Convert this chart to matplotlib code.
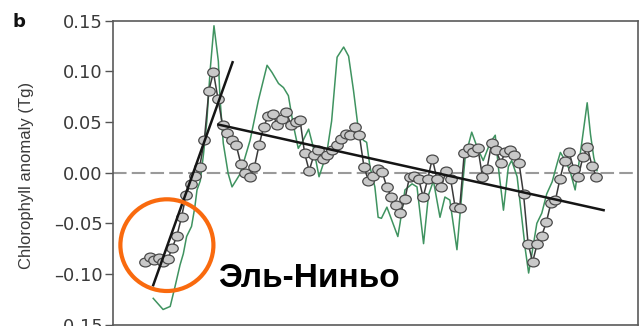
import numpy as np
import matplotlib
matplotlib.use("Agg")
import matplotlib.pyplot as plt
from matplotlib.path import Path
from matplotlib.transforms import Affine2D
from matplotlib.patches import Ellipse

# Monthly chlorophyll anomaly (Tg), starting September 1997
start_year = 1997.67
chl_anomaly = [
    -0.088, -0.083, -0.086, -0.084, -0.088, -0.085, -0.074, -0.062, -0.044, -0.022,
    -0.011, -0.003, 0.006, 0.032, 0.081, 0.099, 0.073, 0.047, 0.039, 0.032,
    0.027, 0.009, 0.000, -0.004, 0.006, 0.027, 0.045, 0.056, 0.058, 0.047,
    0.053, 0.060, 0.047, 0.050, 0.052, 0.019, 0.002, 0.017, 0.022, 0.014,
    0.017, 0.022, 0.027, 0.033, 0.038, 0.037, 0.045, 0.037, 0.006, -0.008,
    -0.003, 0.004, 0.001, -0.014, -0.024, -0.032, -0.040, -0.026, -0.004, -0.003,
    -0.006, -0.024, -0.006, 0.014, -0.006, -0.014, 0.002, -0.006, -0.034, -0.035,
    0.019, 0.024, 0.020, 0.024, -0.004, 0.004, 0.029, 0.022, 0.010, 0.020,
    0.022, 0.017, 0.010, -0.021, -0.070, -0.088, -0.070, -0.062, -0.049, -0.030,
    -0.027, -0.006, 0.012, 0.020, 0.004, -0.004, 0.015, 0.025, 0.007, -0.004,
]

# Comparison series (green curve)
green_years = [
    1997.82, 1998.00, 1998.13, 1998.22, 1998.31, 1998.37, 1998.43, 1998.52, 1998.58, 1998.62,
    1998.68, 1998.74, 1998.80, 1998.86, 1998.93, 1999.01, 1999.04, 1999.10, 1999.19, 1999.26,
    1999.33, 1999.41, 1999.59, 1999.74, 1999.90, 1999.99, 2000.11, 2000.20, 2000.29, 2000.38,
    2000.47, 2000.56, 2000.66, 2000.75, 2000.85, 2000.99, 2001.08, 2001.18, 2001.30, 2001.39,
    2001.48, 2001.57, 2001.66, 2001.72, 2001.78, 2001.87, 2001.93, 2001.99, 2002.09, 2002.18,
    2002.29, 2002.33, 2002.42, 2002.55, 2002.64, 2002.76, 2002.85, 2002.94, 2003.06, 2003.15,
    2003.24, 2003.37, 2003.46, 2003.52, 2003.64, 2003.74, 2003.85, 2003.98, 2004.07, 2004.13,
    2004.22, 2004.31, 2004.37, 2004.47, 2004.56, 2004.62, 2004.68, 2004.74, 2004.83, 2004.92,
    2005.01, 2005.11, 2005.20, 2005.26, 2005.35, 2005.44, 2005.53, 2005.59, 2005.65, 2005.75,
    2005.81, 2005.87, 2005.93,
]
green_values = [
    -0.124, -0.135, -0.132, -0.112, -0.091, -0.080, -0.063, -0.053, -0.034, -0.017,
    -0.008, 0.019, 0.051, 0.101, 0.145, 0.110, 0.074, 0.029, -0.001, -0.014,
    -0.008, -0.001, 0.032, 0.071, 0.106, 0.099, 0.088, 0.084, 0.076, 0.047,
    0.024, 0.032, 0.043, 0.024, -0.004, 0.019, 0.051, 0.114, 0.124, 0.115,
    0.081, 0.042, 0.032, 0.030, 0.006, -0.014, -0.044, -0.045, -0.034, -0.047,
    -0.063, -0.050, -0.017, -0.011, -0.014, -0.070, -0.022, -0.008, -0.044, -0.024,
    -0.027, -0.076, -0.020, 0.015, 0.040, 0.025, 0.012, 0.030, 0.037, 0.004,
    -0.037, 0.006, 0.012, -0.004, -0.047, -0.076, -0.099, -0.080, -0.050, -0.040,
    -0.021, -0.009, 0.009, 0.020, 0.012, 0.001, -0.017, 0.006, 0.029, 0.069,
    0.038, 0.015, 0.002,
]

# Linear trends: warming onset (1997-1999) and the following decline
trend_rise_years = [1997.82, 1999.27]
trend_rise_values = [-0.111, 0.109]
trend_fall_years = [1999.01, 2006.05]
trend_fall_values = [0.0475, -0.037]

y_ticks = [-0.15, -0.10, -0.05, 0.00, 0.05, 0.10, 0.15]

months = start_year + np.arange(len(chl_anomaly)) / 12.0

fig = plt.figure(figsize=(6.4, 3.26), dpi=100)
ax = fig.add_axes([0.177, 0.004, 0.820, 0.9325])

ax.axhline(0.0, color="#9a9a9a", lw=1.5, dashes=(6.5, 2.5), zorder=1)

ax.plot(green_years, green_values, color="#3f9360", lw=1.1, zorder=2)

# slightly wide ellipse marker for the monthly values
ellipse = Path.unit_circle().transformed(Affine2D().scale(1.3, 1.0))
ax.plot(months, chl_anomaly, color="#3a3a3a", lw=1.1, zorder=3)
ax.plot(months, chl_anomaly, ls="none", marker=ellipse, ms=8.3,
        mfc="#c9c9c9", mec="#4a4a4a", mew=0.9, zorder=4)

ax.plot(trend_rise_years, trend_rise_values, color="#151515", lw=1.8, zorder=5)
ax.plot(trend_fall_years, trend_fall_values, color="#151515", lw=1.8, zorder=5)

ax.set_xlim(1997.09, 2006.68)
ax.set_ylim(-0.15, 0.15)
ax.set_yticks(y_ticks)
ax.set_yticklabels([f"{v:.2f}".replace("-", "\u2013") for v in y_ticks],
                   fontsize=13, color="#3a3a3a", family="DejaVu Sans")
ax.tick_params(axis="y", direction="out", length=5.5, width=1.0,
               color="#555555", pad=2)
ax.tick_params(axis="x", bottom=False, labelbottom=False)
for s in ax.spines.values():
    s.set_color("#5a5a5a")
    s.set_linewidth(1.2)

fig.text(0.042, 0.463, "Chlorophyll anomaly (Tg)", rotation=90,
         ha="center", va="center", fontsize=12, color="#3a3a3a",
         family="Liberation Sans")
fig.text(0.019, 0.918, "b", fontsize=13, fontweight="bold",
         color="#111111", family="DejaVu Sans", va="baseline")

# El Niño highlight
ax.add_patch(Ellipse((1998.07, -0.0715), width=1.70, height=0.0905,
                     fill=False, ec="#f96a0e", lw=3.0, zorder=6, clip_on=False))
fig.text(0.341, 0.1196, "Эль-Ниньо", fontsize=24, fontweight="bold",
         color="#000000", family="Liberation Sans", va="baseline")

fig.savefig("out.png", dpi=100)
